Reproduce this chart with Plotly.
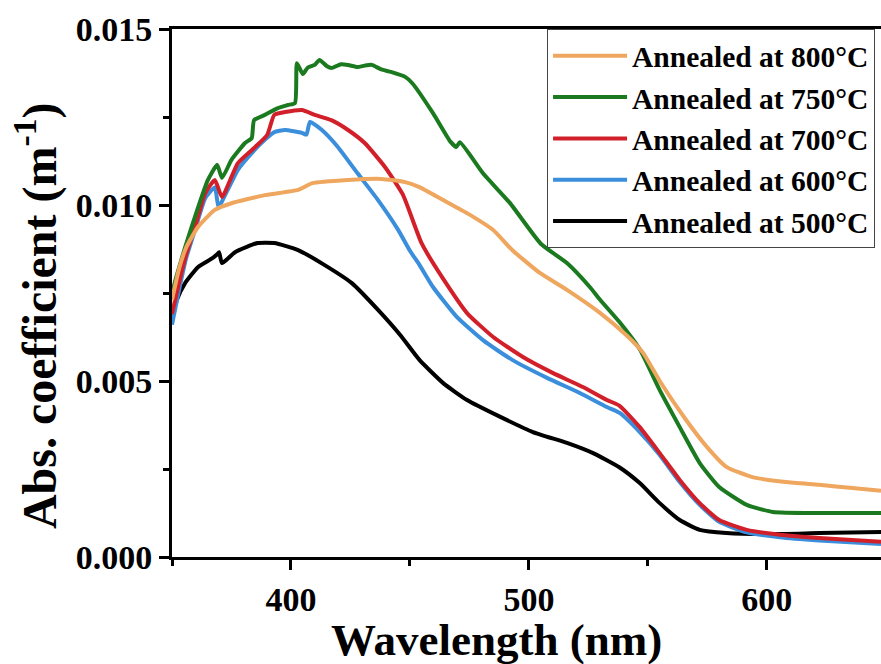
import plotly.graph_objects as go

# ---- data ----
wl_800 = [350, 353, 356, 361, 368, 375, 389, 403, 409, 424, 438, 448, 454, 464, 474, 485,
          493, 504.6, 516, 530, 541, 548, 555, 566, 574.8, 583, 594, 608, 622, 636, 648]
abs_800 = [0.0073, 0.0082, 0.0088, 0.00938, 0.00986, 0.01005, 0.01028, 0.01043, 0.01062,
           0.01071, 0.01074, 0.01065, 0.01051, 0.01014, 0.00977, 0.00929, 0.00872, 0.00807,
           0.00759, 0.00693, 0.0063, 0.0058, 0.0050, 0.0039, 0.00313, 0.00256, 0.00227,
           0.00213, 0.00205, 0.00196, 0.00188]

wl_750 = [350, 352, 355.5, 361, 365, 369, 371, 375, 380.7, 383.5, 384.5, 389, 394.5, 398.7,
          401.7, 402.5, 405, 407, 410, 412, 415, 417, 421, 424, 428, 431, 434, 438, 442, 448,
          451, 459.7, 467, 469.5, 471, 480.7, 492, 505, 516, 525.6, 530, 538, 546.6, 555,
          563.4, 571.8, 580, 591.6, 602.5, 622, 648]
abs_750 = [0.0075, 0.0080, 0.0088, 0.00994, 0.0107, 0.01114, 0.01077, 0.01128, 0.01176,
           0.0119, 0.01241, 0.01256, 0.01275, 0.01284, 0.0129, 0.01403, 0.01372, 0.0139,
           0.01398, 0.01412, 0.01395, 0.01389, 0.01400, 0.01398, 0.01392, 0.01396, 0.01398,
           0.01385, 0.01378, 0.01364, 0.01346, 0.01261, 0.0118, 0.01165, 0.01178, 0.0109,
           0.01006, 0.0089, 0.00835, 0.00767, 0.0073, 0.00668, 0.0059, 0.00474, 0.00369,
           0.00267, 0.00199, 0.00148, 0.00128, 0.00125, 0.00125]

wl_700 = [350, 353, 356, 359.7, 364, 368, 371, 377.7, 385, 390, 393, 397.5, 404.6, 410, 417,
          424, 431, 439.5, 447, 455, 464, 474, 485, 497.5, 510, 522.7, 532.8, 538, 546.6,
          555, 563.4, 571.8, 580, 591.6, 605.5, 622, 648]
abs_700 = [0.0069, 0.0078, 0.0086, 0.00938, 0.01034, 0.01071, 0.01023, 0.01119, 0.01165,
           0.01199, 0.01256, 0.01264, 0.0127, 0.01256, 0.01241, 0.01213, 0.01176, 0.01108,
           0.0103, 0.0089, 0.0079, 0.00693, 0.00625, 0.00568, 0.00523, 0.00483, 0.00446,
           0.0043, 0.00369, 0.00295, 0.00219, 0.00153, 0.00105, 0.00077, 0.00063, 0.00054,
           0.00043]

wl_600 = [350, 353, 356, 359.7, 364, 368, 369.5, 371, 377.7, 383.6, 389, 393, 397.5, 404.6,
          406.5, 408, 413, 419.7, 428, 436.6, 445, 450, 454, 459.7, 469.7, 480.7, 493, 507.6,
          521.4, 532.8, 538, 546.6, 555, 563.4, 571.8, 580, 591.6, 605.5, 622, 648]
abs_600 = [0.0066, 0.0076, 0.0085, 0.0093, 0.0102, 0.0105, 0.00995, 0.0101, 0.0110, 0.01148,
           0.01185, 0.01207, 0.01213, 0.01205, 0.01200, 0.01236, 0.01213, 0.01165, 0.0109,
           0.01014, 0.0093, 0.0087, 0.0083, 0.00767, 0.00682, 0.00616, 0.0056, 0.00509,
           0.00466, 0.00426, 0.0041, 0.00355, 0.0029, 0.00213, 0.00148, 0.001, 0.0007,
           0.00056, 0.00047, 0.00037]

wl_500 = [350, 352, 355.5, 361, 367, 369, 369.8, 371, 376.5, 386, 393, 403, 414, 425.6, 436.6,
          446, 454, 464, 474, 488, 501.7, 516, 527, 538, 546.6, 555, 563.4, 571.8, 583, 601,
          622, 648]
abs_500 = [0.0068, 0.0073, 0.00778, 0.00824, 0.00849, 0.0086, 0.00866, 0.00835, 0.00866,
           0.00892, 0.00892, 0.00872, 0.0083, 0.00778, 0.00702, 0.0063, 0.0056, 0.00494,
           0.00446, 0.00398, 0.00355, 0.00324, 0.00295, 0.00255, 0.0021, 0.00153, 0.00105,
           0.00077, 0.00068, 0.00065, 0.00068, 0.00071]

series_names = ["Annealed at 500°C", "Annealed at 600°C", "Annealed at 700°C",
                "Annealed at 750°C", "Annealed at 800°C"]
series_colors = ["#000000", "#3A8EDB", "#D2202A", "#1B7A1F", "#EFA65E"]

x_ticks = [400, 500, 600]
y_ticks = [0.000, 0.005, 0.010, 0.015]
y_tick_labels = ["0.000", "0.005", "0.010", "0.015"]

FONT = "Liberation Serif"

fig = go.Figure()
for wl, ab, name, col in zip([wl_500, wl_600, wl_700, wl_750, wl_800],
                             [abs_500, abs_600, abs_700, abs_750, abs_800],
                             series_names, series_colors):
    fig.add_trace(go.Scatter(x=wl, y=ab, mode="lines", name=name,
                             line=dict(color=col, width=4, shape="spline", smoothing=0.5)))

fig.update_layout(
    width=881, height=664,
    margin=dict(l=172, r=0, t=29, b=107),
    plot_bgcolor="white", paper_bgcolor="white",
    showlegend=True,
    legend=dict(
        x=0.529, y=1.0, xanchor="left", yanchor="top",
        traceorder="reversed",
        bgcolor="white", bordercolor="#444444", borderwidth=1,
        font=dict(family=FONT, size=29.5, color="black", weight="bold"),
        itemwidth=74,
    ),
    xaxis=dict(
        range=[350, 648], showgrid=False, zeroline=False,
        showline=True, linecolor="black", linewidth=3, mirror=True,
        ticks="outside", ticklen=10, tickwidth=3, tickcolor="black",
        tickvals=x_ticks,
        tickfont=dict(family=FONT, size=34, color="black", weight="bold"),
        minor=dict(ticks="outside", ticklen=6, tickwidth=3, tickcolor="black", dtick=50,
                   tick0=350, showgrid=False),
    ),
    yaxis=dict(
        range=[0, 0.015], showgrid=False, zeroline=False,
        showline=True, linecolor="black", linewidth=3,
        ticks="outside", ticklen=10, tickwidth=3, tickcolor="black",
        tickvals=y_ticks, ticktext=y_tick_labels,
        tickfont=dict(family=FONT, size=34, color="black", weight="bold"),
        minor=dict(ticks="outside", ticklen=6, tickwidth=3, tickcolor="black",
                   dtick=0.0025, tick0=0, showgrid=False),
    ),
    annotations=[
        dict(text="<b>Wavelength (nm)</b>", xref="paper", yref="paper",
             x=0.457, y=-0.157, xanchor="center", yanchor="middle", showarrow=False,
             font=dict(family=FONT, size=45, color="black")),
        dict(text="<b>Abs. coefficient (m<sup>-1</sup>)</b>", xref="paper", yref="paper",
             x=-0.192, y=0.458, xanchor="center", yanchor="middle", showarrow=False,
             textangle=-90, font=dict(family=FONT, size=48, color="black")),
    ],
)

fig.write_html("out.html", config={"displayModeBar": False},
               post_script="document.body.style.margin='0px';document.body.style.padding='0px';")
